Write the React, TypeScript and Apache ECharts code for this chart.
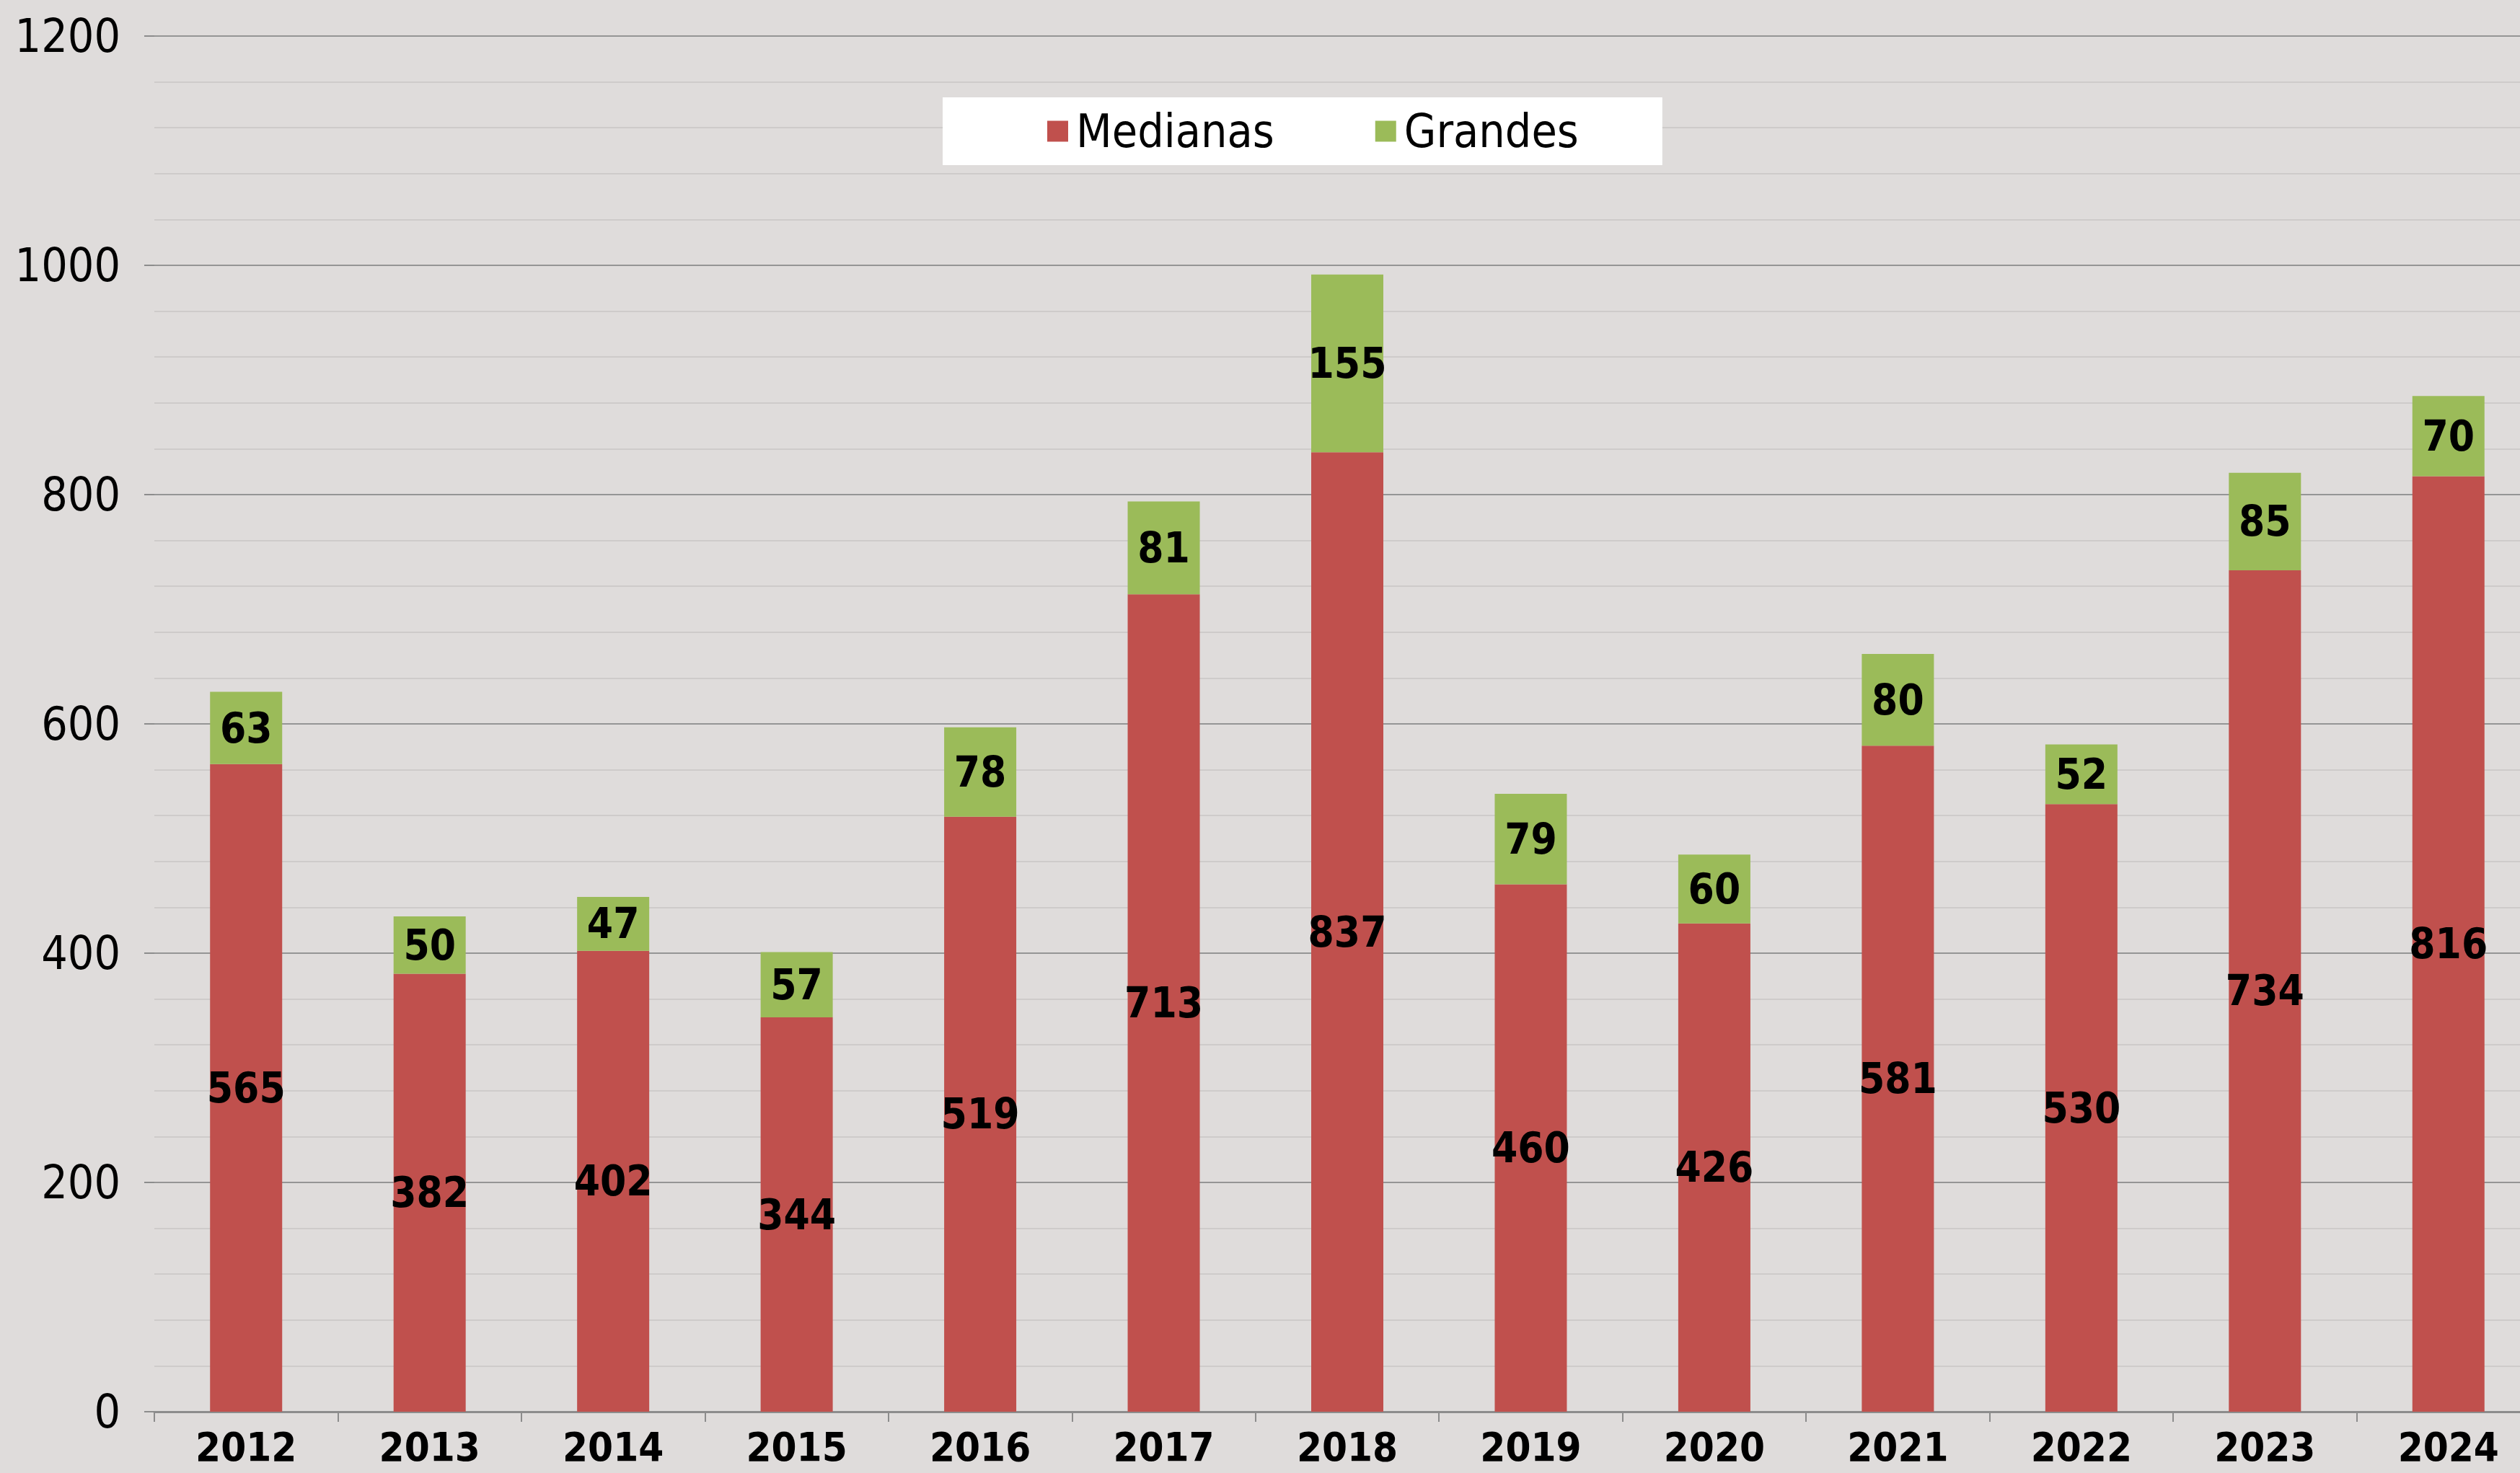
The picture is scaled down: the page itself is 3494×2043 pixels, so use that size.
import React, { useEffect, useRef } from "react";
import * as echarts from "echarts";

const years = ["2012", "2013", "2014", "2015", "2016", "2017", "2018", "2019", "2020", "2021", "2022", "2023", "2024"];
const medianas = [565, 382, 402, 344, 519, 713, 837, 460, 426, 581, 530, 734, 816];
const grandes = [63, 50, 47, 57, 78, 81, 155, 79, 60, 80, 52, 85, 70];
const yTicks = { min: 0, max: 1200, interval: 200 };

const FONT = '"DejaVu Sans Condensed", "Liberation Sans Narrow", sans-serif';

export default function App() {
  const ref = useRef<HTMLDivElement>(null);
  useEffect(() => {
    if (!ref.current) return;
    const chart = echarts.init(ref.current, undefined, { renderer: "svg" });
    const labelStyle = {
      show: true,
      position: "inside",
      color: "#000",
      fontFamily: FONT,
      fontWeight: "bold",
      fontSize: 58,
    };
    chart.setOption({
      animation: false,
      backgroundColor: "#DFDCDB",
      textStyle: { fontFamily: FONT },
      grid: { left: 214, top: 50, right: 8, bottom: 85, containLabel: false },
      legend: {
        left: 1307,
        top: 135,
        backgroundColor: "#FFFFFF",
        padding: [15, 116, 15, 145],
        itemWidth: 29,
        itemHeight: 29,
        itemGap: 140,
        icon: "rect",
        textStyle: { fontFamily: FONT, fontSize: 64, color: "#000", lineHeight: 64, padding: [0, 0, 0, 6] },
        data: ["Medianas", "Grandes"],
      },
      xAxis: {
        type: "category",
        data: years,
        axisLine: { lineStyle: { color: "#8C8C8C", width: 3 } },
        axisTick: { show: true, length: 14, lineStyle: { color: "#8C8C8C", width: 2 } },
        axisLabel: { color: "#000", fontFamily: FONT, fontWeight: "bold", fontSize: 56, lineHeight: 56, margin: 20 },
      },
      yAxis: {
        type: "value",
        min: yTicks.min,
        max: yTicks.max,
        interval: yTicks.interval,
        axisLine: { show: false },
        axisTick: { show: true, length: 14, lineStyle: { color: "#8C8C8C", width: 2 } },
        axisLabel: { color: "#000", fontFamily: FONT, fontSize: 64, margin: 47, formatter: (v: number) => String(v) },
        splitLine: { show: true, lineStyle: { color: "#959595", width: 2 } },
        minorTick: { show: false, splitNumber: 5 },
        minorSplitLine: { show: true, lineStyle: { color: "#C8C6C5", width: 1.5 } },
      },
      series: [
        {
          name: "Medianas",
          type: "bar",
          stack: "total",
          barWidth: 100,
          data: medianas,
          itemStyle: { color: "#C0504D" },
          label: labelStyle,
        },
        {
          name: "Grandes",
          type: "bar",
          stack: "total",
          barWidth: 100,
          data: grandes,
          itemStyle: { color: "#9BBB59" },
          label: labelStyle,
        },
      ],
    });
    return () => chart.dispose();
  }, []);
  return (
    <div style={{ position: "fixed", left: 0, top: 0, width: 3494, height: 2043, overflow: "hidden", background: "#DFDCDB" }}>
      <div ref={ref} style={{ width: 3530, height: 2043 }} />
    </div>
  );
}
